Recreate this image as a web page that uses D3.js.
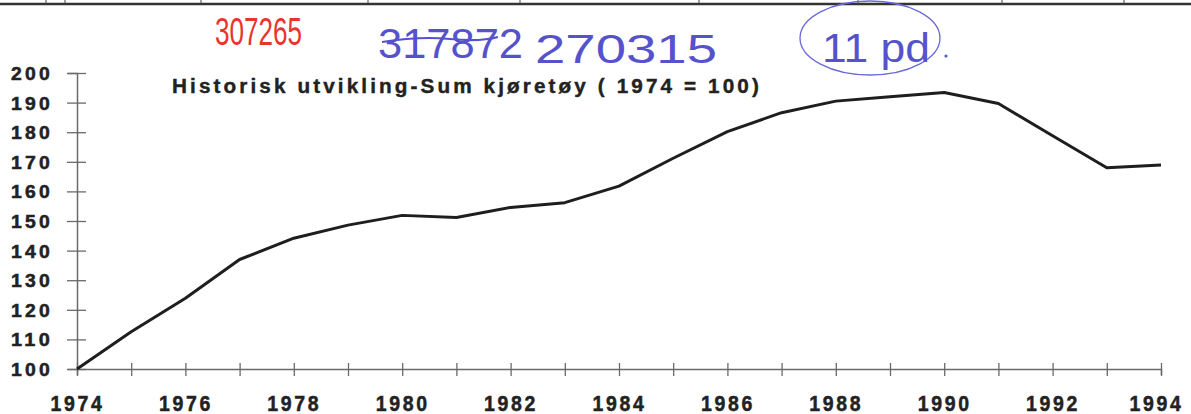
<!DOCTYPE html>
<html>
<head>
<meta charset="utf-8">
<script src="https://cdn.jsdelivr.net/npm/d3@7"></script>
<style>
  body { margin:0; background:#fff; }
  svg { display:block; }
</style>
</head>
<body>
<div id="chart"></div>
<script>
//Define data
var years=[1974,1975,1976,1977,1978,1979,1980,1981,1982,1983,1984,1985,1986,1987,1988,1989,1990,1991,1992,1993,1994];
var index=[100,112.6,123.9,137,144.2,148.6,151.9,151.2,154.6,156.2,161.8,171.2,180.2,186.6,190.5,192,193.4,189.7,178.8,168,168.9];
var yTicks=[100,110,120,130,140,150,160,170,180,190,200];
var xLabelYears=[1974,1976,1978,1980,1982,1984,1986,1988,1990,1992,1994];
var title='Historisk utvikling-Sum kjøretøy ( 1974 = 100)';

var width=1191,
    height=414;
var margin={top:73, bottom:45, left:77, right:30};

var svg=d3.select('#chart')
          .append('svg')
          .attr('width',width)
          .attr('height',height)
          .style('background','#fff');

// Scales
var xScale=d3.scaleLinear()
             .domain([1974,1994])
             .range([margin.left, width-margin.right]);
var yScale=d3.scaleLinear()
             .domain([100,200])
             .range([height-margin.bottom, margin.top]);

var axisColor='#6a6a6a';
var textColor='#222';
var font='Liberation Sans, Arial, sans-serif';

//Top edge of the scanned page
svg.append('line')
   .attr('x1',0).attr('x2',width)
   .attr('y1',4).attr('y2',4)
   .attr('stroke','#333').attr('stroke-width',2.5);
[46,65,201,368,520,699,858,1002,1124].forEach(function(x){
  svg.append('line').attr('x1',x).attr('x2',x).attr('y1',0).attr('y2',4)
     .attr('stroke','#444').attr('stroke-width',1);
});

//Y axis
var yAxis=svg.append('g')
             .attr('transform',`translate(${margin.left},0)`)
             .call(d3.axisLeft(yScale).tickValues(yTicks).tickSize(9).tickPadding(24));
yAxis.select('.domain').attr('stroke',axisColor).attr('stroke-width',1.5);
yAxis.selectAll('.tick line')
     .attr('x1',-10).attr('x2',9)
     .attr('stroke',axisColor).attr('stroke-width',1.3);
yAxis.selectAll('.tick text')
     .attr('text-anchor','start')
     .attr('x',-66)
     .attr('dy','0.36em')
     .attr('textLength',42)
     .attr('lengthAdjust','spacingAndGlyphs')
     .style('font-family',font)
     .style('font-weight','bold')
     .style('font-size','18px')
     .style('letter-spacing','3px')
     .attr('fill',textColor)
     .attr('stroke',textColor).attr('stroke-width',0.5);

//X axis
var xAxis=svg.append('g')
             .attr('transform',`translate(0,${height-margin.bottom})`)
             .call(d3.axisBottom(xScale)
                     .tickValues(years)
                     .tickSize(6)
                     .tickFormat(function(d){ return xLabelYears.indexOf(d)>=0 ? d : ''; }));
xAxis.select('.domain').attr('stroke',axisColor).attr('stroke-width',1.5);
xAxis.selectAll('.tick line')
     .attr('y1',-6).attr('y2',7)
     .attr('stroke',axisColor).attr('stroke-width',1.3);
xAxis.selectAll('.tick text')
     .attr('y',41.5)
     .attr('dy',0)
     .attr('x',function(d){ return d===1994 ? -5 : 0; })
     .attr('textLength',function(){ return this.textContent ? 54 : null; })
     .attr('lengthAdjust','spacingAndGlyphs')
     .style('font-family',font)
     .style('font-weight','bold')
     .style('font-size','22px')
     .style('letter-spacing','3px')
     .attr('fill',textColor)
     .attr('stroke',textColor).attr('stroke-width',0.5);

//Title
svg.append('text')
   .attr('x',172)
   .attr('y',93)
   .attr('textLength',590)
   .attr('lengthAdjust','spacingAndGlyphs')
   .style('font-family',font)
   .style('font-weight','bold')
   .style('font-size','20px')
   .style('letter-spacing','3px')
   .attr('fill',textColor)
   .attr('stroke',textColor).attr('stroke-width',0.4)
   .text(title);

//Draw line
var line=d3.line()
           .x(function(d,i){ return xScale(years[i]); })
           .y(function(d){ return yScale(d); });
svg.append('path')
   .datum(index)
   .attr('d',line)
   .attr('fill','none')
   .attr('stroke','#1e1e1e')
   .attr('stroke-width',3)
   .attr('stroke-linejoin','round');

//Handwritten notes
var hand='Liberation Sans Narrow, Liberation Sans, sans-serif';
svg.append('text')
   .attr('x',215).attr('y',45)
   .attr('textLength',87).attr('lengthAdjust','spacingAndGlyphs')
   .style('font-family',hand).style('font-size','38px')
   .attr('fill','#e8342c')
   .text('307265');
svg.append('text')
   .attr('x',378).attr('y',58)
   .attr('textLength',145).attr('lengthAdjust','spacingAndGlyphs')
   .style('font-family',hand).style('font-size','42px')
   .attr('fill','#5552cc')
   .text('317872');
svg.append('path')
   .attr('d','M382,42 Q420,36 450,39 T498,37')
   .attr('fill','none').attr('stroke','#5552cc').attr('stroke-width',2.2);
svg.append('text')
   .attr('x',535).attr('y',63)
   .attr('textLength',182).attr('lengthAdjust','spacingAndGlyphs')
   .style('font-family',hand).style('font-size','40px')
   .attr('fill','#5552cc')
   .text('270315');
svg.append('ellipse')
   .attr('cx',870).attr('cy',38).attr('rx',70).attr('ry',37)
   .attr('fill','none').attr('stroke','#6a68d8').attr('stroke-width',1.3);
svg.append('text')
   .attr('x',822).attr('y',62)
   .attr('textLength',108).attr('lengthAdjust','spacingAndGlyphs')
   .style('font-family',hand).style('font-size','40px')
   .attr('fill','#5552cc')
   .text('11 pd');
svg.append('circle')
   .attr('cx',946).attr('cy',56).attr('r',1.6)
   .attr('fill','#5552cc');
</script>
</body>
</html>
